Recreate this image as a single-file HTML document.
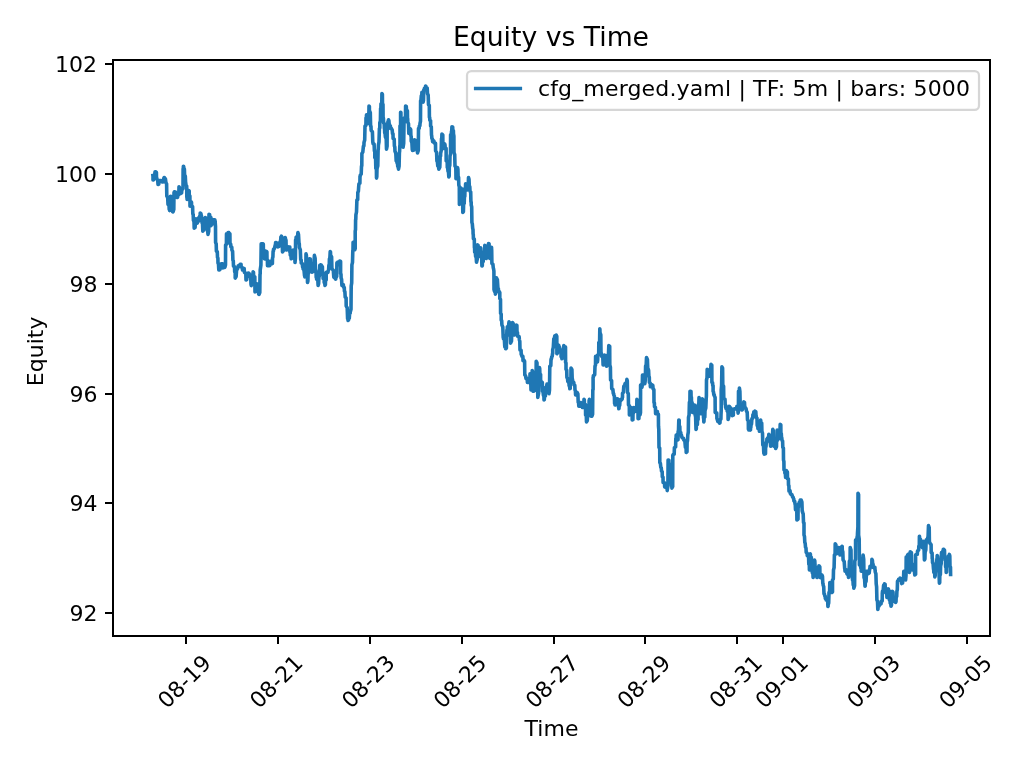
<!DOCTYPE html>
<html lang="en"><head><meta charset="utf-8"><title>Equity vs Time</title>
<style>html,body{margin:0;padding:0;background:#fff}svg{display:block}text{font-family:'DejaVu Sans', 'Liberation Sans', sans-serif;fill:#000}</style></head><body>
<svg width="1024" height="768" viewBox="0 0 1024 768">
<rect width="1024" height="768" fill="#fff"/>
<path d="M152.9 175.6 L153.0 176.4 L153.0 180.0 L153.5 179.8 L153.6 178.1 L154.5 176.9 L155.0 171.9 L155.4 171.9 L155.7 171.8 L156.4 172.2 L156.5 177.5 L156.7 177.7 L156.8 179.2 L157.7 179.9 L158.0 184.4 L158.8 184.2 L158.9 180.9 L159.4 180.8 L159.6 180.6 L161.0 180.6 L161.2 181.1 L161.2 181.2 L161.2 181.5 L161.9 181.5 L162.1 181.9 L162.9 181.9 L163.3 181.9 L163.7 181.6 L163.8 178.0 L164.1 178.0 L164.2 177.5 L164.5 177.5 L164.6 178.1 L165.4 178.8 L165.9 182.5 L166.6 183.8 L166.8 196.2 L167.1 196.3 L167.2 196.5 L167.7 197.8 L168.0 204.4 L169.0 204.8 L169.2 209.4 L169.6 209.5 L169.6 210.6 L170.3 208.8 L170.5 196.2 L171.1 196.7 L171.2 202.5 L172.5 203.0 L172.6 211.7 L172.9 211.7 L173.0 211.9 L173.8 209.5 L174.0 192.5 L174.2 192.4 L174.3 191.7 L175.4 191.9 L175.5 194.4 L175.9 194.4 L176.0 194.4 L176.9 194.7 L177.1 197.5 L177.6 197.3 L177.6 195.3 L178.8 194.6 L179.0 186.9 L179.5 187.6 L179.8 191.0 L180.4 191.0 L180.5 192.5 L180.8 192.6 L180.8 193.4 L181.6 193.0 L181.8 190.0 L183.0 188.6 L183.1 169.0 L183.3 168.5 L183.4 166.2 L183.7 166.6 L183.9 168.2 L184.4 169.3 L184.6 175.0 L185.3 176.2 L185.6 182.7 L185.8 183.0 L185.9 185.0 L186.7 186.0 L186.8 197.0 L187.0 197.4 L187.1 199.4 L187.7 198.3 L188.0 193.9 L188.6 193.6 L188.8 190.6 L189.2 191.0 L189.2 195.0 L189.9 196.0 L190.0 206.2 L190.4 206.0 L190.6 204.7 L191.1 204.4 L191.2 201.9 L191.5 202.3 L191.6 206.0 L192.6 206.6 L192.8 213.8 L193.2 214.5 L193.4 220.2 L194.0 221.5 L194.2 228.1 L195.1 227.3 L195.4 221.9 L195.8 221.7 L195.9 218.8 L196.2 219.4 L196.4 223.2 L196.9 223.2 L197.1 223.1 L197.4 223.1 L197.4 221.6 L198.5 221.2 L198.8 217.5 L199.7 217.4 L199.8 216.0 L200.2 215.8 L200.2 213.1 L200.9 213.5 L201.2 215.3 L201.4 215.6 L201.5 217.5 L201.9 218.0 L202.0 222.5 L202.5 223.8 L202.8 231.2 L203.2 230.7 L203.5 228.5 L203.9 228.1 L204.0 225.0 L204.3 224.2 L204.5 220.8 L205.0 220.2 L205.2 217.5 L205.8 217.9 L205.9 222.0 L206.3 222.8 L206.5 227.5 L206.8 227.9 L206.9 230.0 L207.6 230.8 L208.0 234.4 L208.7 231.3 L209.0 214.4 L209.6 214.7 L209.7 216.9 L210.8 217.3 L210.9 225.6 L211.1 225.5 L211.1 224.7 L212.0 224.4 L212.1 219.4 L212.6 219.5 L212.8 220.1 L213.6 220.1 L213.8 219.7 L214.8 219.7 L214.9 221.0 L215.2 221.1 L215.2 221.9 L215.2 222.0 L215.2 222.5 L215.5 226.3 L215.6 242.5 L216.2 243.9 L216.4 251.2 L217.3 251.8 L217.5 257.5 L217.9 258.0 L218.0 263.0 L218.5 264.1 L218.8 270.0 L219.5 270.0 L219.8 269.6 L220.2 268.8 L220.5 265.2 L221.1 265.1 L221.2 263.8 L222.6 263.9 L222.7 268.0 L223.0 267.9 L223.1 267.5 L223.7 267.5 L223.8 267.5 L224.8 267.4 L225.0 266.9 L225.5 264.9 L225.6 245.0 L226.4 244.4 L226.5 233.8 L227.4 233.9 L227.8 234.8 L228.1 234.6 L228.1 232.5 L228.8 232.6 L229.0 233.1 L229.9 233.9 L230.0 243.8 L230.7 244.1 L230.9 247.0 L231.8 247.2 L231.9 250.0 L232.6 251.4 L232.9 260.1 L233.3 261.0 L233.5 266.2 L234.5 266.6 L234.7 271.9 L235.2 272.2 L235.2 278.1 L236.1 276.6 L236.6 270.1 L236.9 270.0 L236.9 268.8 L237.7 268.6 L237.9 267.2 L238.1 267.1 L238.2 266.7 L238.2 266.5 L238.2 265.8 L239.8 265.7 L240.0 264.4 L241.0 264.4 L241.1 264.4 L241.1 264.8 L241.1 267.1 L242.2 267.4 L242.5 270.0 L242.9 269.9 L243.0 268.3 L244.2 268.5 L244.4 272.5 L244.6 272.5 L244.7 272.6 L245.8 273.2 L246.0 280.0 L246.7 279.5 L247.0 276.7 L247.4 276.5 L247.4 274.6 L248.0 274.4 L248.1 273.1 L249.0 273.3 L249.3 274.3 L249.8 274.4 L250.0 275.0 L250.7 276.7 L251.0 284.4 L251.2 284.6 L251.2 285.6 L252.2 283.8 L252.7 274.4 L253.0 274.0 L253.1 271.9 L253.5 272.3 L253.6 275.8 L254.8 276.8 L255.0 291.9 L255.4 291.6 L255.5 289.6 L256.7 289.3 L256.9 283.8 L257.9 285.2 L258.4 292.5 L258.6 292.7 L258.6 294.0 L259.0 294.0 L259.0 294.4 L259.8 292.6 L260.0 274.5 L260.2 273.8 L260.2 270.0 L260.9 265.3 L261.2 243.8 L261.6 243.8 L261.6 244.7 L262.5 244.6 L262.8 243.8 L263.3 244.1 L263.4 249.7 L264.2 250.4 L264.4 258.8 L264.7 258.8 L264.7 259.0 L265.9 258.1 L266.2 251.2 L266.9 252.0 L267.0 259.4 L267.4 259.9 L267.5 265.6 L267.9 265.1 L268.2 263.2 L268.7 263.4 L268.8 265.7 L269.9 265.4 L270.0 261.2 L270.4 261.2 L270.6 261.2 L271.5 261.6 L271.9 263.8 L272.4 263.5 L272.5 258.3 L272.9 257.0 L273.1 251.2 L273.5 251.1 L273.5 249.3 L274.5 248.4 L275.2 245.1 L275.5 244.8 L275.6 242.5 L276.7 243.0 L277.1 246.3 L277.2 246.2 L277.2 245.6 L277.8 245.9 L278.1 246.9 L279.1 246.2 L279.5 242.7 L279.8 242.5 L280.0 241.9 L280.6 241.1 L280.9 237.0 L281.3 236.9 L281.5 236.2 L282.2 238.7 L282.5 251.9 L283.5 250.5 L283.9 242.9 L284.1 242.9 L284.2 243.2 L284.7 242.1 L285.0 237.5 L285.3 237.6 L285.4 238.7 L286.0 240.4 L286.2 250.0 L286.8 249.5 L287.2 247.3 L287.9 247.5 L288.1 249.7 L288.6 249.4 L288.8 246.9 L289.8 247.1 L289.9 252.3 L290.2 252.4 L290.3 255.1 L291.0 255.6 L291.2 258.8 L292.0 258.3 L292.1 254.1 L292.8 253.4 L293.1 250.0 L293.9 250.8 L294.1 257.0 L294.9 257.3 L295.0 262.5 L295.4 258.6 L295.6 240.0 L296.0 239.6 L296.1 237.2 L296.9 237.0 L297.4 236.1 L297.7 235.4 L297.9 232.5 L298.5 234.6 L299.0 243.6 L299.3 243.7 L299.4 247.5 L300.3 249.6 L300.7 259.6 L301.2 259.8 L301.2 263.1 L302.3 263.6 L302.6 267.0 L303.0 267.2 L303.1 268.8 L304.0 270.0 L304.5 275.4 L304.7 275.7 L304.8 276.9 L305.3 275.7 L305.5 264.7 L305.9 263.9 L306.0 253.8 L306.4 255.5 L306.5 264.7 L307.2 267.1 L307.5 282.5 L307.9 281.0 L308.1 274.2 L309.0 271.6 L309.4 258.8 L310.3 259.0 L310.4 263.8 L310.8 264.2 L311.0 266.0 L311.6 267.1 L311.9 272.2 L312.9 271.7 L313.1 265.8 L313.2 265.7 L313.3 264.1 L314.0 262.7 L314.4 255.4 L315.1 258.1 L315.5 269.4 L316.0 270.9 L316.2 277.2 L316.5 277.5 L316.6 279.2 L317.8 280.0 L318.1 285.4 L318.6 283.8 L318.9 277.4 L319.5 275.3 L319.8 265.4 L320.4 265.3 L320.6 264.9 L321.3 265.0 L321.4 265.7 L321.7 265.7 L321.9 266.0 L322.4 266.7 L322.5 272.6 L323.0 273.2 L323.1 278.5 L324.1 278.7 L324.2 282.5 L324.7 283.1 L325.0 285.4 L325.4 284.7 L325.5 280.6 L326.2 280.1 L326.2 272.2 L327.0 272.3 L327.4 272.5 L328.0 272.4 L328.1 271.0 L328.6 270.0 L328.9 265.1 L329.3 264.6 L329.4 259.1 L329.9 257.7 L330.2 251.6 L330.5 251.9 L330.6 255.3 L331.6 256.7 L331.9 268.5 L332.1 268.6 L332.2 269.1 L333.3 270.3 L333.8 277.2 L334.1 277.3 L334.3 277.7 L335.5 277.8 L335.6 279.1 L335.8 279.1 L335.8 277.6 L336.7 276.4 L336.9 262.9 L337.4 263.0 L337.5 265.1 L337.8 264.9 L337.8 262.1 L338.4 262.1 L338.6 261.7 L339.6 261.7 L339.8 261.0 L340.6 261.4 L340.6 273.5 L341.0 274.3 L341.1 278.0 L341.6 279.3 L341.9 285.4 L342.2 285.3 L342.3 284.5 L343.4 284.7 L343.5 287.3 L344.3 287.5 L344.4 291.0 L344.9 291.8 L345.2 297.1 L346.1 297.8 L346.2 306.0 L347.2 307.9 L347.6 318.6 L347.9 319.0 L348.1 320.4 L348.5 320.1 L348.8 318.9 L349.3 318.1 L349.6 313.3 L350.2 313.2 L350.2 312.2 L351.0 309.2 L351.2 286.0 L351.7 283.0 L351.9 264.8 L352.5 262.3 L352.8 250.9 L353.0 249.9 L353.1 242.2 L353.4 242.4 L353.5 243.4 L354.4 244.4 L354.8 249.8 L355.2 248.5 L355.2 231.2 L355.5 229.7 L355.6 220.0 L355.8 219.2 L355.9 214.9 L356.5 212.0 L356.9 200.0 L357.7 199.8 L357.8 192.5 L358.4 191.2 L358.8 185.0 L358.9 184.8 L359.0 183.8 L359.9 183.3 L360.0 176.2 L360.2 176.2 L360.3 175.1 L361.2 174.1 L361.5 166.2 L361.8 165.7 L361.9 153.5 L362.8 152.1 L363.4 146.3 L363.7 146.2 L363.8 146.0 L363.9 145.8 L364.0 142.6 L364.7 140.1 L365.0 126.0 L365.9 125.4 L366.0 117.9 L366.4 117.6 L366.5 114.8 L367.5 115.1 L367.6 120.3 L367.7 120.5 L367.8 123.5 L368.3 122.2 L368.5 113.7 L368.9 113.0 L369.0 106.0 L369.4 106.4 L369.4 110.3 L370.3 112.6 L370.6 126.0 L371.0 126.2 L371.1 130.0 L371.2 130.1 L371.2 130.6 L372.4 131.8 L372.8 142.2 L373.0 142.4 L373.0 143.6 L374.1 144.2 L374.4 151.0 L374.8 151.5 L374.8 157.5 L375.6 158.7 L375.8 168.3 L376.4 169.2 L376.5 178.1 L376.8 176.7 L377.0 168.7 L377.8 165.8 L378.1 150.0 L378.3 149.1 L378.4 145.2 L379.0 141.9 L379.4 128.5 L379.8 128.0 L379.8 122.7 L380.4 120.9 L380.6 108.5 L380.9 108.1 L381.0 103.9 L381.8 103.2 L381.9 93.5 L382.4 94.2 L382.5 103.7 L383.0 104.5 L383.1 117.2 L383.4 118.2 L383.6 122.9 L384.2 123.4 L384.4 128.5 L384.6 129.2 L384.7 132.7 L385.1 133.6 L385.4 137.0 L386.2 138.6 L386.5 149.1 L387.1 146.1 L387.2 126.0 L387.7 125.2 L387.9 121.8 L388.3 121.5 L388.5 119.8 L388.9 120.7 L389.2 124.3 L389.6 124.5 L389.8 125.6 L390.4 126.1 L390.6 128.5 L391.5 128.6 L391.7 129.1 L392.2 129.9 L392.5 133.5 L393.0 133.9 L393.1 138.4 L394.2 139.0 L394.4 146.0 L394.8 146.9 L395.0 151.3 L395.8 153.2 L396.2 161.0 L396.8 161.4 L397.2 163.5 L397.6 163.7 L397.7 166.3 L398.2 166.9 L398.5 169.1 L399.1 166.1 L399.4 152.7 L399.6 151.5 L399.8 146.0 L400.0 144.8 L400.0 126.0 L400.6 125.3 L400.6 112.2 L400.9 112.6 L401.0 119.1 L401.6 120.9 L401.9 131.0 L402.0 131.4 L402.1 134.2 L402.8 136.4 L403.1 147.2 L403.7 143.2 L404.0 123.5 L404.3 122.4 L404.5 117.8 L405.5 117.3 L405.6 106.0 L406.3 106.5 L406.5 110.3 L407.4 110.7 L407.5 118.5 L407.7 118.9 L407.8 122.3 L408.5 123.6 L408.8 133.5 L409.0 133.4 L409.2 133.0 L409.8 132.4 L410.0 128.5 L410.7 129.5 L410.9 136.0 L411.2 136.2 L411.2 141.0 L411.9 142.6 L412.3 150.0 L412.5 150.0 L412.5 150.4 L413.9 150.1 L414.1 142.1 L414.3 141.9 L414.4 139.8 L415.1 140.1 L415.3 142.2 L416.2 142.2 L416.2 142.2 L416.4 142.7 L416.5 144.6 L417.3 145.6 L417.5 152.9 L418.3 150.4 L418.5 128.5 L419.2 128.3 L419.3 126.0 L419.9 125.7 L420.0 123.5 L420.5 121.2 L420.6 101.0 L421.0 100.0 L421.3 95.8 L421.8 95.5 L421.9 92.2 L422.2 92.6 L422.2 95.8 L422.9 96.5 L423.1 102.2 L423.5 100.2 L423.8 89.8 L424.2 89.6 L424.4 88.3 L425.4 88.2 L425.6 86.0 L425.9 86.3 L426.0 87.5 L427.2 88.1 L427.5 93.5 L428.2 95.2 L428.5 104.8 L429.3 105.4 L429.4 117.2 L429.7 117.5 L429.8 120.3 L430.6 120.6 L430.6 126.0 L431.3 126.9 L431.5 135.1 L431.7 135.8 L431.9 138.5 L432.4 139.0 L432.6 141.7 L433.5 141.7 L433.8 141.0 L434.0 141.3 L434.1 142.9 L435.5 143.2 L435.6 151.0 L435.8 151.0 L435.8 151.1 L436.6 152.4 L436.9 161.0 L437.4 161.9 L437.8 166.0 L438.5 166.4 L438.8 169.1 L439.8 167.2 L440.2 156.3 L440.6 156.1 L440.6 153.5 L441.2 150.7 L441.5 138.8 L441.8 138.0 L441.9 134.1 L442.8 135.0 L442.9 146.0 L443.1 146.3 L443.1 148.5 L444.3 148.4 L444.4 146.2 L444.7 146.1 L444.8 144.1 L445.0 144.9 L445.2 147.8 L446.1 148.5 L446.2 161.0 L447.2 161.3 L447.3 167.4 L447.7 168.1 L448.0 171.1 L448.5 172.1 L448.8 176.9 L449.2 176.0 L449.3 167.1 L449.8 165.2 L450.0 156.0 L450.5 153.9 L450.6 134.8 L451.3 134.3 L451.5 131.4 L451.8 130.7 L451.9 126.9 L452.7 127.0 L452.8 130.2 L453.4 130.5 L453.5 133.8 L453.9 136.1 L454.0 152.5 L454.7 154.6 L455.0 166.2 L455.8 167.2 L456.0 178.8 L456.6 177.5 L456.9 170.6 L457.3 170.1 L457.5 167.5 L457.9 169.1 L458.1 176.4 L458.6 177.3 L458.8 185.0 L459.3 186.8 L459.4 204.4 L459.8 202.8 L460.0 196.0 L460.6 194.5 L461.0 188.1 L462.0 189.3 L462.2 204.4 L462.7 204.8 L462.8 212.5 L463.4 211.7 L463.6 204.2 L464.2 203.4 L464.4 197.5 L464.8 196.2 L465.0 188.2 L465.5 187.6 L465.6 183.8 L466.0 184.4 L466.2 187.1 L466.8 187.3 L466.9 190.0 L467.1 189.8 L467.1 188.2 L468.2 187.1 L468.5 177.5 L469.0 179.2 L469.3 186.0 L469.8 186.8 L470.0 191.2 L470.7 191.9 L470.9 201.8 L471.2 202.2 L471.2 205.0 L471.7 206.9 L471.9 222.5 L472.3 223.7 L472.7 228.4 L473.0 229.4 L473.1 233.8 L473.3 234.7 L473.4 238.7 L474.3 239.0 L474.4 247.5 L474.6 247.7 L474.7 252.1 L475.4 252.6 L475.6 256.2 L476.2 257.2 L476.5 262.2 L477.2 259.6 L477.5 244.8 L478.1 245.3 L478.3 248.9 L479.1 249.8 L479.4 256.0 L479.6 256.0 L479.6 256.5 L480.4 255.5 L480.6 247.9 L480.8 248.3 L480.9 250.6 L481.6 252.7 L481.9 266.0 L482.3 265.7 L482.4 262.2 L483.2 261.5 L483.5 257.2 L483.9 256.9 L484.0 254.4 L484.6 253.6 L484.8 245.4 L485.9 246.1 L486.0 257.0 L486.2 257.0 L486.2 258.5 L486.7 257.7 L486.9 254.2 L487.9 253.2 L488.2 246.3 L488.5 246.1 L488.5 243.5 L489.1 244.0 L489.2 250.5 L489.6 251.6 L489.8 258.5 L490.1 258.0 L490.3 256.0 L491.1 254.8 L491.5 247.2 L491.7 250.5 L491.9 263.5 L492.9 264.2 L493.3 268.1 L493.4 268.2 L493.5 268.5 L493.9 271.1 L494.0 289.8 L494.3 290.1 L494.5 291.5 L495.3 291.6 L495.4 294.1 L496.2 291.9 L496.5 277.9 L497.4 279.8 L497.9 288.1 L498.1 288.2 L498.1 288.5 L498.4 288.6 L498.4 291.0 L499.1 291.2 L499.4 292.2 L499.8 292.6 L499.8 298.6 L500.5 299.4 L500.6 313.5 L501.2 313.9 L501.2 320.0 L501.7 320.8 L501.9 325.0 L502.8 327.0 L503.2 337.4 L503.4 337.5 L503.5 338.8 L504.4 340.1 L504.8 346.9 L504.9 346.4 L504.9 344.1 L505.5 344.7 L505.6 348.8 L506.4 348.1 L506.5 335.0 L506.8 334.4 L506.9 330.0 L507.3 329.9 L507.3 326.8 L507.8 326.8 L507.9 326.5 L508.6 325.7 L509.0 321.9 L509.8 322.9 L509.9 335.4 L510.4 336.9 L510.6 343.1 L511.5 341.1 L511.8 328.4 L512.2 327.3 L512.5 322.5 L513.2 323.5 L513.5 329.2 L513.8 330.3 L514.0 335.0 L514.6 334.9 L514.7 333.6 L514.8 333.4 L514.8 332.2 L516.0 331.7 L516.2 325.0 L516.9 325.5 L517.0 332.2 L517.5 332.4 L517.5 336.2 L518.2 336.2 L518.4 336.0 L519.1 336.6 L519.4 340.0 L519.8 341.2 L520.0 350.0 L521.1 350.2 L521.2 354.4 L521.7 354.6 L521.9 356.2 L522.9 356.5 L523.0 360.8 L523.6 360.7 L523.8 360.0 L524.6 361.2 L524.8 375.0 L525.5 375.6 L526.0 378.5 L526.1 378.3 L526.2 377.7 L526.7 378.0 L526.9 379.4 L527.3 379.7 L527.4 382.4 L528.6 382.4 L528.8 382.5 L529.4 382.3 L529.4 379.6 L529.9 379.3 L530.0 373.8 L530.6 376.7 L531.0 390.0 L531.6 387.8 L531.9 377.2 L532.1 376.2 L532.2 370.6 L533.0 372.2 L533.1 391.2 L533.5 391.3 L533.6 391.3 L534.7 390.6 L535.0 385.0 L535.3 384.2 L535.3 378.1 L536.1 376.7 L536.2 361.2 L537.0 362.8 L537.1 381.7 L537.6 383.9 L537.8 397.5 L538.6 393.2 L539.1 372.1 L539.3 371.5 L539.4 367.5 L539.7 368.5 L539.9 374.0 L540.6 374.3 L540.6 380.0 L540.8 380.3 L540.9 381.7 L542.3 382.4 L542.5 391.2 L543.1 391.8 L543.4 395.3 L543.9 395.5 L544.0 400.0 L544.3 399.6 L544.5 396.8 L545.4 396.0 L545.6 387.5 L546.5 386.9 L547.0 384.1 L547.3 384.1 L547.5 384.4 L547.8 384.8 L548.0 388.0 L548.8 388.5 L549.0 393.8 L549.5 390.0 L549.8 366.2 L550.8 365.8 L551.0 359.6 L551.2 359.5 L551.2 358.8 L551.5 358.4 L551.7 357.0 L552.2 356.4 L552.5 353.8 L552.7 353.4 L552.7 349.6 L553.3 347.4 L553.8 338.8 L554.4 338.3 L554.8 335.8 L555.0 336.1 L555.2 337.5 L556.0 337.2 L556.2 335.0 L556.8 336.2 L556.9 353.8 L557.8 352.3 L558.3 345.0 L558.6 345.1 L558.8 345.6 L558.9 345.7 L558.9 346.7 L559.6 347.3 L560.0 350.0 L561.0 350.5 L561.1 356.7 L561.7 356.9 L561.9 358.8 L562.9 357.8 L563.2 349.4 L563.7 349.2 L563.8 345.6 L563.9 345.7 L564.0 346.4 L565.5 347.0 L565.6 362.5 L566.0 363.1 L566.0 369.3 L566.7 370.1 L566.9 377.5 L567.5 378.2 L567.8 381.5 L568.4 381.6 L568.5 382.5 L569.0 382.6 L569.1 385.6 L569.6 386.0 L569.8 388.8 L570.2 388.4 L570.2 381.1 L570.9 380.2 L571.0 368.1 L571.9 369.4 L572.2 378.8 L572.4 379.0 L572.5 380.0 L572.7 380.4 L572.7 382.3 L573.8 382.5 L574.0 385.0 L574.8 385.4 L575.0 390.0 L575.4 390.8 L575.6 395.0 L576.1 394.9 L576.3 394.0 L577.2 393.9 L577.2 392.5 L577.9 394.0 L578.2 402.3 L578.6 402.7 L578.8 406.2 L579.1 406.2 L579.1 406.1 L580.5 405.9 L580.6 402.5 L581.3 402.8 L581.6 404.6 L582.3 404.9 L582.5 407.5 L583.1 407.4 L583.2 404.3 L583.9 403.9 L584.0 399.4 L584.3 399.8 L584.4 404.1 L585.5 404.5 L585.6 415.0 L586.3 415.7 L586.5 421.9 L587.3 420.5 L587.7 413.4 L588.1 413.3 L588.1 410.0 L589.0 409.4 L589.1 400.4 L589.3 400.3 L589.4 399.4 L590.3 400.3 L590.5 409.9 L591.0 410.2 L591.0 416.2 L591.6 416.2 L591.9 416.2 L592.6 414.2 L592.8 390.0 L593.1 389.5 L593.1 377.5 L593.3 377.3 L593.4 375.7 L594.7 374.7 L595.0 366.2 L595.5 365.0 L595.6 356.2 L596.7 357.1 L597.2 362.1 L597.4 361.9 L597.5 361.2 L597.7 360.0 L597.8 354.9 L598.7 354.4 L598.8 342.5 L599.6 341.5 L599.8 328.8 L599.9 329.4 L600.0 332.5 L600.8 334.8 L601.0 352.5 L601.3 353.2 L601.5 356.1 L601.6 356.1 L601.6 356.2 L602.8 357.3 L603.1 365.0 L604.1 364.6 L604.2 358.4 L604.3 358.0 L604.4 355.0 L605.0 355.7 L605.4 358.6 L605.7 359.0 L605.9 362.2 L606.5 362.3 L606.5 366.2 L606.7 366.0 L606.7 363.8 L607.7 363.4 L607.8 355.0 L608.5 354.0 L608.8 345.6 L609.7 346.4 L609.8 365.0 L610.4 367.2 L610.6 380.0 L611.6 380.6 L611.7 388.2 L611.8 388.3 L611.9 388.8 L612.9 389.5 L613.3 393.6 L613.7 393.7 L613.8 395.0 L614.4 396.2 L614.6 403.6 L615.0 403.7 L615.0 405.0 L615.3 404.5 L615.5 402.3 L616.6 402.0 L616.9 398.8 L618.2 399.3 L618.4 406.8 L618.7 407.0 L618.8 408.8 L619.0 408.5 L619.1 406.3 L619.7 405.3 L620.0 401.2 L620.4 401.1 L620.5 399.9 L621.7 399.8 L621.9 399.1 L622.2 398.9 L622.2 397.5 L622.5 397.4 L622.5 393.4 L623.4 392.3 L623.8 386.2 L624.0 386.2 L624.1 385.8 L624.8 385.5 L625.0 383.8 L626.1 383.4 L626.6 381.6 L626.8 381.2 L626.9 379.4 L627.3 381.0 L627.5 392.5 L628.3 393.6 L628.5 405.0 L629.3 405.6 L629.4 415.0 L629.8 414.8 L629.9 413.3 L630.8 412.5 L631.2 407.5 L632.1 408.6 L632.2 420.0 L632.9 419.6 L633.0 413.9 L633.5 413.0 L633.8 407.5 L634.5 407.9 L634.8 410.2 L635.3 410.4 L635.6 411.2 L635.8 411.2 L635.8 410.6 L636.7 409.7 L636.9 399.4 L637.0 399.5 L637.0 401.9 L637.9 403.7 L638.1 418.8 L638.9 418.6 L639.0 415.1 L639.7 415.1 L640.0 415.0 L640.5 412.6 L640.6 385.0 L641.5 385.0 L641.6 384.3 L641.8 384.5 L641.9 387.5 L642.3 385.1 L642.5 375.0 L643.1 375.1 L643.1 377.6 L643.2 377.8 L643.3 379.0 L644.2 379.9 L644.8 383.8 L645.3 380.3 L645.6 366.2 L646.2 364.8 L646.5 357.5 L647.4 359.4 L647.8 369.1 L648.1 369.1 L648.1 368.8 L648.6 370.3 L648.9 376.6 L649.3 377.1 L649.4 382.5 L650.2 383.0 L650.4 386.8 L651.0 386.7 L651.2 386.2 L651.9 386.1 L652.1 384.8 L652.8 385.4 L653.1 388.8 L653.9 389.7 L654.0 402.5 L654.4 403.1 L654.5 406.6 L655.4 407.3 L655.6 413.8 L656.5 413.6 L656.7 411.4 L657.4 411.5 L657.5 413.8 L658.4 414.2 L658.5 426.2 L658.8 429.7 L659.0 447.5 L659.7 448.0 L659.8 462.5 L660.4 463.5 L660.8 467.4 L661.3 468.0 L661.5 471.2 L662.2 471.5 L662.3 476.7 L663.0 477.1 L663.1 482.5 L664.5 482.7 L664.7 487.0 L665.0 486.9 L665.0 485.0 L665.4 485.2 L665.5 487.5 L666.2 487.5 L666.6 487.5 L667.2 487.6 L667.2 490.6 L667.9 485.9 L668.1 460.0 L668.9 460.2 L669.0 463.9 L669.9 464.2 L670.0 470.0 L671.1 472.3 L671.6 486.0 L671.8 486.1 L671.9 488.1 L672.7 486.4 L672.8 455.0 L673.0 454.9 L673.1 454.7 L674.2 454.2 L674.4 447.5 L675.6 446.9 L675.8 438.7 L676.1 438.2 L676.2 435.0 L676.6 435.4 L676.8 437.8 L677.4 437.9 L677.5 440.0 L678.0 439.7 L678.1 431.9 L678.5 430.0 L678.8 420.0 L679.2 420.3 L679.2 425.7 L679.8 426.5 L680.0 432.5 L680.8 432.6 L680.9 434.7 L681.5 435.2 L681.9 437.5 L682.2 437.5 L682.3 437.9 L683.4 438.2 L683.8 440.0 L684.0 440.0 L684.1 440.2 L684.9 441.6 L685.4 447.3 L686.1 447.8 L686.2 452.5 L687.0 451.7 L687.1 442.2 L687.5 440.8 L687.8 435.0 L688.3 432.1 L688.5 417.5 L689.1 414.9 L689.4 402.5 L689.9 401.2 L690.0 391.2 L691.0 391.5 L691.1 396.8 L691.4 397.4 L691.5 401.2 L692.2 403.1 L692.5 412.5 L692.9 412.0 L693.1 409.9 L694.0 409.3 L694.4 405.0 L694.8 406.2 L694.9 413.9 L695.6 416.7 L696.0 429.4 L696.3 428.9 L696.4 424.6 L697.4 424.4 L697.5 420.0 L698.1 419.4 L698.1 405.0 L698.8 404.2 L699.0 397.5 L699.9 399.6 L700.3 411.3 L700.6 411.5 L700.6 413.8 L701.1 413.0 L701.2 408.0 L702.0 406.7 L702.2 398.8 L703.3 400.3 L703.5 418.0 L703.7 418.2 L703.8 421.9 L704.0 421.3 L704.1 417.9 L704.8 417.1 L705.0 410.0 L705.1 410.0 L705.2 410.1 L705.8 408.0 L706.2 398.8 L706.4 395.8 L706.5 380.0 L707.0 378.0 L707.2 369.4 L707.8 369.8 L708.0 372.2 L708.1 372.5 L708.2 373.8 L709.2 374.0 L709.4 376.2 L709.5 376.0 L709.6 375.0 L710.4 372.9 L711.0 364.4 L711.8 365.3 L711.9 382.5 L712.6 382.7 L712.7 385.4 L713.1 385.6 L713.1 391.2 L713.5 392.0 L713.8 394.7 L714.3 394.8 L714.4 396.2 L715.1 397.4 L715.2 412.5 L715.5 412.6 L715.6 412.8 L716.8 413.1 L716.9 418.8 L717.2 419.0 L717.4 420.1 L717.6 420.4 L717.8 421.5 L718.8 421.7 L719.4 423.1 L720.0 422.8 L720.1 419.5 L720.9 419.3 L721.0 415.0 L721.2 410.6 L721.2 390.0 L721.6 385.5 L721.9 366.9 L722.6 368.2 L722.8 385.0 L723.6 386.2 L723.8 398.8 L725.0 399.2 L725.2 404.5 L725.5 404.9 L725.6 407.5 L726.0 407.6 L726.0 408.5 L727.1 408.7 L727.2 411.2 L728.0 411.7 L728.1 419.4 L728.7 417.3 L729.0 406.2 L729.5 406.5 L729.8 407.9 L730.5 407.9 L730.6 408.1 L730.9 408.2 L731.0 410.6 L731.9 411.3 L732.2 415.6 L733.3 415.1 L733.5 409.2 L733.8 409.2 L734.1 409.4 L734.3 409.4 L734.4 408.8 L735.1 408.7 L735.3 408.5 L735.8 408.5 L736.0 408.5 L736.7 408.2 L736.9 406.2 L737.4 406.4 L737.4 409.4 L737.8 410.1 L738.1 413.1 L738.4 411.0 L738.5 391.2 L739.3 391.0 L739.4 388.1 L739.9 391.5 L740.2 405.0 L740.9 405.1 L741.0 406.5 L741.6 406.9 L741.9 410.0 L742.4 409.7 L742.6 407.5 L743.6 407.1 L743.8 401.9 L744.5 402.4 L744.7 406.2 L744.9 406.5 L745.0 408.1 L745.4 408.1 L745.5 408.0 L746.1 408.7 L746.5 411.2 L747.2 412.3 L747.5 420.0 L748.3 420.5 L748.4 429.2 L748.7 429.3 L748.8 430.0 L749.6 430.0 L750.1 430.1 L750.5 429.8 L750.6 427.5 L750.9 427.3 L750.9 425.4 L751.5 424.1 L751.9 418.8 L752.7 418.2 L752.9 414.7 L753.6 414.5 L753.8 411.9 L754.0 411.9 L754.0 411.8 L754.8 411.7 L755.0 411.2 L755.8 411.7 L756.0 415.3 L756.2 415.7 L756.2 417.5 L757.0 418.2 L757.2 425.5 L757.4 425.6 L757.5 426.2 L757.9 426.3 L757.9 428.5 L759.1 428.7 L759.4 431.2 L759.6 431.1 L759.6 427.9 L760.2 426.4 L760.6 420.0 L760.7 420.2 L760.8 422.4 L761.7 423.1 L761.9 431.2 L762.5 433.3 L762.8 445.0 L763.5 445.9 L763.8 453.1 L764.1 453.2 L764.2 454.1 L765.5 453.7 L765.6 447.5 L766.0 446.5 L766.3 442.5 L766.8 442.3 L766.9 438.8 L767.4 438.6 L767.6 438.1 L768.6 437.9 L768.8 434.4 L769.3 435.4 L769.7 440.3 L770.3 441.5 L770.6 446.2 L771.4 445.9 L771.5 437.5 L771.9 437.2 L772.1 435.8 L772.5 434.8 L772.8 429.4 L773.4 430.8 L773.7 440.6 L773.9 441.5 L774.0 446.2 L775.2 446.6 L775.7 448.5 L775.9 448.3 L776.0 447.5 L776.5 446.8 L776.6 441.3 L777.2 440.6 L777.2 430.0 L777.6 430.4 L777.8 432.5 L778.5 433.3 L778.8 438.8 L779.2 438.4 L779.3 434.4 L779.9 432.7 L780.2 424.4 L780.8 424.8 L780.9 433.0 L781.3 433.7 L781.5 437.5 L781.8 437.9 L782.0 440.4 L782.6 441.0 L782.8 447.5 L783.4 447.9 L783.5 460.0 L783.9 461.4 L784.0 470.0 L784.7 470.2 L784.9 473.2 L785.4 473.8 L785.6 477.5 L786.1 476.8 L786.2 470.6 L786.5 470.8 L786.6 471.9 L787.4 472.1 L787.5 478.8 L788.4 479.0 L788.5 485.0 L788.9 485.7 L789.0 491.2 L789.8 491.2 L789.9 490.6 L790.1 490.9 L790.2 493.3 L790.7 493.4 L790.9 494.4 L792.0 494.8 L792.5 496.9 L793.1 497.2 L793.5 498.8 L793.8 499.0 L793.9 500.9 L794.7 501.3 L795.0 503.8 L795.3 505.0 L795.5 509.8 L796.8 510.3 L796.9 520.0 L798.0 519.3 L798.1 507.6 L798.4 507.3 L798.5 503.8 L799.1 503.5 L799.3 502.2 L799.9 501.8 L800.3 500.0 L801.1 500.0 L801.2 500.0 L801.9 502.0 L802.2 511.2 L802.5 511.3 L802.5 512.2 L803.2 514.0 L803.5 522.5 L804.0 523.0 L804.0 535.0 L804.5 536.5 L804.8 542.5 L805.2 543.3 L805.5 547.1 L806.0 548.0 L806.2 552.5 L807.0 553.0 L807.3 555.7 L808.0 555.8 L808.1 556.2 L808.6 557.5 L808.8 564.2 L809.3 564.8 L809.4 570.0 L810.0 567.6 L810.2 553.8 L810.4 554.2 L810.5 556.6 L811.3 557.3 L811.5 563.8 L812.0 565.3 L812.3 572.8 L812.9 573.5 L813.1 577.5 L813.7 575.1 L814.1 564.7 L814.3 563.8 L814.4 560.0 L814.8 561.0 L815.1 566.5 L815.5 567.2 L815.6 571.2 L816.1 571.4 L816.2 573.3 L816.7 573.9 L816.9 577.5 L817.2 577.2 L817.3 575.4 L818.2 573.9 L818.8 566.9 L818.9 566.8 L818.9 565.7 L819.8 566.8 L820.0 577.5 L820.2 577.5 L820.4 577.6 L821.6 577.4 L821.9 575.0 L822.5 576.5 L822.8 583.5 L823.1 583.6 L823.1 585.0 L823.7 586.7 L824.0 593.8 L824.5 594.1 L824.7 595.7 L825.2 596.1 L825.3 598.4 L826.2 598.5 L826.2 600.0 L827.7 600.4 L827.9 606.4 L828.1 606.2 L828.1 605.0 L828.7 603.0 L829.0 592.5 L829.6 591.2 L829.8 582.5 L830.0 582.5 L830.1 582.8 L831.1 583.0 L831.2 588.3 L831.6 589.1 L831.9 592.5 L832.5 592.1 L832.5 580.0 L833.3 578.9 L833.5 570.0 L834.1 567.6 L834.4 555.0 L835.1 554.2 L835.2 543.8 L835.9 544.8 L836.1 553.4 L836.4 553.4 L836.5 553.8 L837.2 553.4 L837.4 551.4 L838.0 551.1 L838.1 547.5 L839.4 547.8 L839.5 553.6 L839.9 553.7 L840.0 555.0 L840.7 553.9 L841.1 548.7 L841.6 548.2 L841.9 546.2 L842.2 546.4 L842.3 550.3 L842.8 551.9 L843.1 560.0 L844.2 561.5 L844.7 568.6 L844.9 568.9 L845.0 571.2 L845.4 571.0 L845.6 569.4 L846.5 570.0 L846.9 573.8 L847.7 573.8 L847.8 575.0 L848.4 575.3 L848.5 577.5 L849.0 574.4 L849.4 561.2 L850.1 559.8 L850.2 547.5 L851.0 550.1 L851.2 567.5 L851.9 569.6 L852.3 578.4 L852.5 578.5 L852.5 580.0 L853.0 580.9 L853.2 584.8 L853.7 585.0 L853.8 588.1 L854.6 585.6 L854.8 561.2 L855.5 559.2 L855.6 540.0 L856.8 539.5 L857.2 536.6 L857.4 535.9 L857.5 533.0 L857.9 526.9 L858.0 493.3 L858.6 494.7 L858.6 535.0 L859.2 539.1 L859.4 565.0 L860.5 565.3 L860.8 568.1 L861.2 568.3 L861.2 571.2 L861.6 570.3 L861.8 565.7 L862.6 563.7 L863.1 555.0 L863.7 559.2 L864.0 577.5 L864.6 579.2 L865.0 586.2 L865.2 585.9 L865.3 582.9 L866.1 581.2 L866.5 571.2 L867.8 571.3 L867.9 573.5 L868.1 573.5 L868.1 573.8 L869.2 573.1 L869.6 569.2 L869.9 568.7 L870.0 566.2 L870.2 566.3 L870.3 566.8 L871.8 566.5 L871.9 559.4 L872.4 560.3 L872.7 563.9 L873.1 564.1 L873.1 567.5 L873.3 567.4 L873.5 567.1 L874.9 567.2 L875.0 570.0 L875.2 570.2 L875.2 571.8 L875.9 573.9 L876.2 583.8 L876.6 586.7 L876.9 600.0 L877.5 601.3 L877.8 609.4 L878.0 609.1 L878.0 606.4 L879.1 606.1 L879.4 603.8 L880.2 603.8 L880.4 604.1 L881.1 603.8 L881.2 601.2 L882.2 601.0 L882.3 593.1 L882.4 592.8 L882.5 591.2 L883.2 590.1 L883.6 585.3 L884.3 585.2 L884.4 583.8 L885.1 584.2 L885.3 588.4 L885.5 588.9 L885.6 592.5 L885.8 592.6 L885.9 592.9 L886.8 593.1 L886.9 597.5 L887.7 596.0 L888.1 588.9 L888.4 589.0 L888.5 589.4 L889.1 591.0 L889.4 600.0 L890.1 600.1 L890.2 603.1 L890.8 603.5 L891.0 606.2 L891.5 605.0 L891.8 599.1 L892.2 598.5 L892.2 591.2 L893.0 592.2 L893.2 598.6 L893.7 598.9 L893.8 601.2 L895.1 601.2 L895.3 600.7 L895.5 600.9 L895.6 602.5 L896.0 601.7 L896.2 597.2 L896.7 596.5 L896.9 591.2 L897.3 589.6 L897.5 581.2 L898.0 581.1 L898.2 580.2 L898.6 580.2 L898.6 579.4 L899.8 579.3 L900.0 578.1 L901.2 579.0 L901.7 583.6 L901.9 583.4 L902.0 582.3 L902.3 582.4 L902.5 583.1 L902.6 582.8 L902.7 580.6 L903.5 579.4 L903.8 571.2 L904.7 571.8 L904.9 577.0 L905.5 577.3 L905.6 580.0 L906.0 575.6 L906.2 556.9 L907.3 556.7 L907.6 555.1 L908.0 555.0 L908.1 554.4 L908.3 555.1 L908.3 558.7 L909.2 559.6 L909.4 572.5 L910.1 570.5 L910.2 551.9 L911.4 552.6 L911.6 562.9 L911.8 563.0 L911.9 563.8 L912.3 564.0 L912.5 565.2 L913.0 565.6 L913.1 570.0 L913.6 570.1 L913.7 570.6 L914.4 571.3 L914.8 575.0 L915.6 574.2 L915.6 555.0 L916.0 555.0 L916.0 554.5 L917.3 554.3 L917.5 551.2 L918.0 551.1 L918.1 550.2 L918.7 550.0 L918.8 546.2 L919.3 545.4 L919.4 536.2 L919.5 536.7 L919.6 538.6 L920.4 539.2 L920.6 543.8 L920.9 543.9 L921.0 546.4 L921.7 546.6 L922.2 547.5 L922.9 546.6 L923.1 541.2 L923.3 541.6 L923.3 543.6 L924.0 546.9 L924.4 560.0 L924.9 559.0 L925.1 552.1 L925.8 549.9 L926.2 540.0 L926.6 539.9 L926.8 539.4 L927.3 539.3 L927.5 538.8 L928.1 536.4 L928.5 525.6 L929.2 527.5 L929.4 542.5 L929.9 542.7 L930.2 543.8 L931.1 544.4 L931.2 552.5 L932.1 552.9 L932.2 558.4 L932.4 558.8 L932.5 562.5 L933.1 563.8 L933.5 569.2 L933.7 569.7 L933.8 572.5 L934.7 572.7 L934.8 576.9 L935.2 575.7 L935.3 569.6 L935.9 569.0 L936.0 563.8 L936.5 562.8 L936.9 558.9 L937.1 558.4 L937.2 555.6 L937.6 556.4 L937.8 559.4 L938.4 560.3 L938.5 570.0 L939.0 572.6 L939.4 583.1 L939.7 582.6 L939.8 575.9 L940.4 574.3 L940.6 566.2 L941.2 563.6 L941.5 552.5 L942.7 552.4 L942.9 550.7 L943.2 550.4 L943.3 549.2 L943.6 549.3 L943.8 549.4 L944.5 550.2 L944.7 558.3 L945.0 558.4 L945.0 560.0 L945.5 560.7 L945.6 566.7 L946.1 567.5 L946.2 572.5 L946.6 571.9 L946.7 567.0 L947.2 565.6 L947.5 560.0 L948.1 559.6 L948.3 556.2 L949.0 555.9 L949.4 554.4 L949.8 555.9 L950.0 566.2 L950.5 567.3 L950.6 574.4" fill="none" stroke="#1f77b4" stroke-width="3.600" stroke-linejoin="round" stroke-linecap="square"/>
<g fill="#000" shape-rendering="crispEdges">
<rect x="112" y="59" width="2" height="578"/>
<rect x="989" y="59" width="2" height="578"/>
<rect x="112" y="59" width="879" height="2"/>
<rect x="112" y="635" width="879" height="2"/>
<rect x="185" y="637" width="2" height="7"/>
<rect x="277" y="637" width="2" height="7"/>
<rect x="369" y="637" width="2" height="7"/>
<rect x="461" y="637" width="2" height="7"/>
<rect x="553" y="637" width="2" height="7"/>
<rect x="644" y="637" width="2" height="7"/>
<rect x="736" y="637" width="2" height="7"/>
<rect x="782" y="637" width="2" height="7"/>
<rect x="874" y="637" width="2" height="7"/>
<rect x="966" y="637" width="2" height="7"/>
<rect x="105" y="63" width="7" height="2"/>
<rect x="105" y="173" width="7" height="2"/>
<rect x="105" y="283" width="7" height="2"/>
<rect x="105" y="393" width="7" height="2"/>
<rect x="105" y="502" width="7" height="2"/>
<rect x="105" y="612" width="7" height="2"/>
</g>
<g font-size="22">
<text transform="translate(167.08 709.61) rotate(-45)">08-19</text>
<text transform="translate(258.98 709.61) rotate(-45)">08-21</text>
<text transform="translate(350.88 709.61) rotate(-45)">08-23</text>
<text transform="translate(442.77 709.61) rotate(-45)">08-25</text>
<text transform="translate(534.67 709.61) rotate(-45)">08-27</text>
<text transform="translate(626.57 709.61) rotate(-45)">08-29</text>
<text transform="translate(718.47 709.61) rotate(-45)">08-31</text>
<text transform="translate(764.42 709.61) rotate(-45)">09-01</text>
<text transform="translate(856.32 709.61) rotate(-45)">09-03</text>
<text transform="translate(948.21 709.61) rotate(-45)">09-05</text>
<text x="97.00" y="72.00" text-anchor="end" font-size="22">102</text>
<text x="97.00" y="182.00" text-anchor="end" font-size="22">100</text>
<text x="97.60" y="292.00" text-anchor="end" font-size="22">98</text>
<text x="97.60" y="402.00" text-anchor="end" font-size="22">96</text>
<text x="97.60" y="511.00" text-anchor="end" font-size="22">94</text>
<text x="97.60" y="621.00" text-anchor="end" font-size="22">92</text>
<text x="551.54" y="735.75" text-anchor="middle" font-size="22">Time</text>
<text transform="translate(43.00 351.39) rotate(-90)" text-anchor="middle">Equity</text>
</g>
<text x="550.96" y="46.06" text-anchor="middle" font-size="26.667">Equity vs Time</text>
<rect x="467.00" y="71.05" width="512.00" height="38.85" rx="4.44" fill="#fff" fill-opacity="0.8" stroke="#ccc" stroke-opacity="0.8" stroke-width="2.222"/>
<path d="M475.57 88.48 H520.44" stroke="#1f77b4" stroke-width="3.333" stroke-linecap="square"/>
<text x="537.90" y="96.30" font-size="22.000" textLength="432.05" lengthAdjust="spacing">cfg_merged.yaml | TF: 5m | bars: 5000</text>
</svg></body></html>
